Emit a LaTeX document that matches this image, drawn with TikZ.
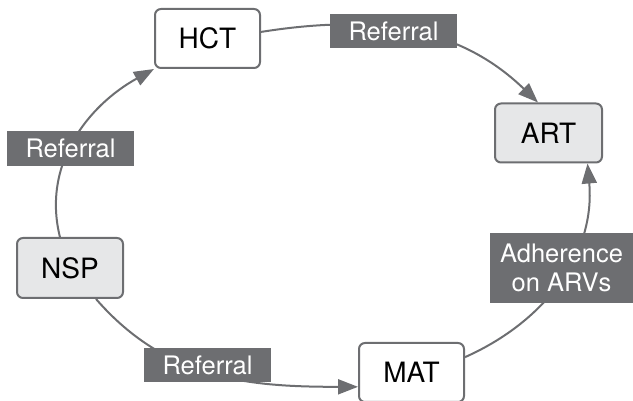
\documentclass[tikz,border=0pt]{standalone}
\usepackage{fontspec}
\setmainfont{TeX Gyre Heros}
\usetikzlibrary{arrows.meta}
\definecolor{edgegray}{HTML}{6D6E71}
\definecolor{boxfill}{HTML}{E6E7E8}
\begin{document}
\begin{tikzpicture}[x=1pt,y=1pt,
  box/.style={draw=edgegray, line width=2pt, rounded corners=6pt, fill=white,
    minimum width=105pt, minimum height=59pt, inner sep=0pt,
    font=\fontsize{28}{33}\selectfont},
  graybox/.style={box, fill=boxfill},
  lbl/.style={fill=edgegray, text=white, inner sep=0pt, align=center,
    minimum width=127pt, minimum height=34pt,
    font=\fontsize{25.5}{29}\selectfont},
  conn/.style={draw=edgegray, line width=2pt, -{Triangle[length=20pt,width=15pt]}}
]
\useasboundingbox (0,0) rectangle (633,401);
\clip (0,0) rectangle (633,401);
\node[box] (hct) at (207.5,362.5) {HCT};
\node[graybox, minimum width=107pt] (art) at (548.5,268) {ART};
\node[graybox, minimum width=106pt, minimum height=60pt] (nsp) at (70,133) {NSP};
\node[box] (mat) at (411.5,28.5) {MAT};

\draw[conn] (nsp.108) to[out=104, in=209] (hct.south west);
\draw[conn] (hct.7) to[out=9, in=136] (art.109);
\draw[conn] (mat.16) to[out=24, in=-85] (art.-38);
\draw[conn] (nsp.-50) to[out=-49, in=180] (mat.195);

\node[lbl] (l1) at (393.5,370) {Referral};
\node[lbl, minimum height=35pt] (l2) at (70.5,252.5) {Referral};
\node[lbl] (l3) at (207.5,36) {Referral};
\node[lbl, minimum width=143pt, minimum height=70pt] (l4) at (561.5,133) {Adherence\\on ARVs};
\end{tikzpicture}
\end{document}
